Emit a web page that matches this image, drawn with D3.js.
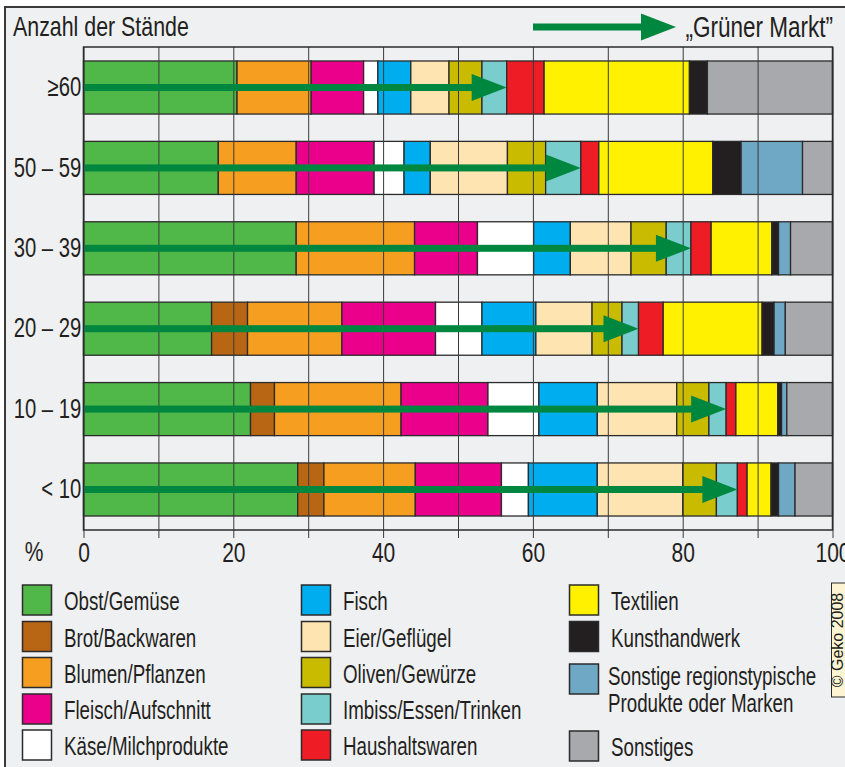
<!DOCTYPE html>
<html>
<head>
<meta charset="utf-8">
<script src="https://cdn.jsdelivr.net/npm/d3@7"></script>
<style>
  body { margin: 0; background: #fff; }
  svg { display: block; }
</style>
</head>
<body>
<svg width="845" height="767"></svg>
<script>
// categories, in stacking order (left to right)
var categories = ["Obst/Gemüse", "Brot/Backwaren", "Blumen/Pflanzen", "Fleisch/Aufschnitt",
  "Käse/Milchprodukte", "Fisch", "Eier/Geflügel", "Oliven/Gewürze", "Imbiss/Essen/Trinken",
  "Haushaltswaren", "Textilien", "Kunsthandwerk",
  "Sonstige regionstypische Produkte oder Marken", "Sonstiges"];
var colors = ["#50b848", "#b86514", "#f69e1f", "#eb008b", "#ffffff", "#00aeef", "#fee4b0",
  "#c9bb00", "#79cdcd", "#ee1c25", "#fff100", "#231f20", "#6ea8c4", "#a7a9ac"];

// groups = Anzahl der Stände, top to bottom
var groups = ["≥60", "50 – 59", "30 – 39", "20 – 29", "10 – 19", "< 10"];

// share in % per category
var s60   = [20.5, 0,   9.9,  7.0, 1.9, 4.4, 5.1,  4.4, 3.3, 5.0, 19.4, 2.4, 0,   16.7];
var s5059 = [18.0, 0,   10.4, 10.4, 4.0, 3.5, 10.3, 5.1, 4.7, 2.4, 15.2, 3.8, 8.2, 4.0];
var s3039 = [28.4, 0,   15.8, 8.4, 7.5, 4.9, 8.1,  4.7, 3.3, 2.7, 8.1,  0.9, 1.6, 5.6];
var s2029 = [17.1, 4.8, 12.6, 12.5, 6.2, 7.2, 7.5, 4.0, 2.2, 3.3, 13.2, 1.6, 1.5, 6.3];
var s1019 = [22.3, 3.2, 16.9, 11.6, 6.8, 7.8, 10.6, 4.3, 2.3, 1.3, 5.6, 0.5, 0.7, 6.1];
var s10   = [28.6, 3.5, 12.2, 11.5, 3.6, 9.2, 11.4, 4.5, 2.8, 1.3, 3.2, 1.0, 2.2, 5.0];
var shares = [s60, s5059, s3039, s2029, s1019, s10];

// "Grüner Markt" = first 9 categories (food)
var greenCount = 9;

var xTicks = [0, 10, 20, 30, 40, 50, 60, 70, 80, 90, 100];

// no narrow font installed -> squeeze a regular one
var font = "'Liberation Sans', Arial, sans-serif";
var squeeze = "scale(0.75,1)";
var ink = "#231f20";
var arrowGreen = "#00873f";

var svg = d3.select("svg");

var plot = { left: 83.5, right: 832.5, top: 47, bottom: 530 };

var x = d3.scaleLinear().domain([0, 100]).range([plot.left, plot.right]);
var y = d3.scaleBand().domain(groups).range([plot.top, plot.bottom])
  .paddingInner(0.34).paddingOuter(0.174);

function label(g, px, py, t, size, anchor) {
  return g.append("text")
    .attr("transform", "translate(" + px + "," + py + ") " + squeeze)
    .attr("text-anchor", anchor || "start")
    .attr("dy", "0.36em")
    .attr("font-family", font)
    .attr("font-size", size)
    .attr("fill", ink)
    .text(t);
}

// background panel
svg.append("rect").attr("width", 845).attr("height", 767).attr("fill", "#fff");
svg.append("rect").attr("x", 5).attr("y", 7).attr("width", 870).attr("height", 790)
  .attr("fill", "#eff0f2").attr("stroke", "#3a3a3a").attr("stroke-width", 2);

// stacked bars
var rows = groups.map(function(gname, i) {
  var acc = 0;
  return shares[i].map(function(v, k) {
    var seg = { group: gname, k: k, x0: acc, x1: acc + v };
    acc += v;
    return seg;
  });
});

svg.append("g").selectAll("g")
  .data(rows)
  .enter().append("g")
  .selectAll("rect")
  .data(function(d) { return d.filter(function(s) { return s.x1 - s.x0 > 0; }); })
  .enter().append("rect")
  .attr("x", function(d) { return x(d.x0); })
  .attr("width", function(d) { return x(d.x1) - x(d.x0); })
  .attr("y", function(d) { return y(d.group); })
  .attr("height", y.bandwidth())
  .attr("fill", function(d) { return colors[d.k]; })
  .attr("stroke", "#2b2b2b")
  .attr("stroke-width", 1.3);

// grid + ticks
var xAxis = d3.axisBottom(x)
  .tickValues(xTicks)
  .tickSize(-(538 - plot.top))
  .tickPadding(4)
  .tickFormat(function(d) { return d % 20 === 0 ? d : ""; });

var gx = svg.append("g").attr("transform", "translate(0,538)").call(xAxis);
gx.select(".domain").remove();
gx.selectAll("line").attr("stroke", "#3a3a3a").attr("stroke-width", 1);
gx.selectAll("text")
  .attr("font-family", font).attr("font-size", 28).attr("fill", ink)
  .attr("transform", squeeze);

// frame
svg.append("rect")
  .attr("x", plot.left).attr("y", plot.top)
  .attr("width", plot.right - plot.left).attr("height", plot.bottom - plot.top)
  .attr("fill", "none").attr("stroke", "#2b2b2b").attr("stroke-width", 1.5);

label(svg, 34, 551, "%", 28, "middle");

// y labels
var yAxis = d3.axisLeft(y).tickSize(0).tickPadding(3);
var gy = svg.append("g").attr("transform", "translate(" + plot.left + ",0)").call(yAxis);
gy.select(".domain").remove();
gy.selectAll("text")
  .attr("font-family", font).attr("font-size", 27).attr("fill", ink)
  .attr("transform", squeeze);

// green market arrows
function drawArrow(g, x0, x1, cy) {
  var headLen = 35, headH = 27, shaft = 7;
  g.append("rect")
    .attr("x", x0).attr("y", cy - shaft / 2)
    .attr("width", x1 - headLen - x0 + 2).attr("height", shaft)
    .attr("fill", arrowGreen);
  g.append("path")
    .attr("d", "M" + (x1 - headLen) + "," + (cy - headH / 2) +
      "L" + x1 + "," + cy + "L" + (x1 - headLen) + "," + (cy + headH / 2) + "Z")
    .attr("fill", arrowGreen);
}

var arrows = svg.append("g");
groups.forEach(function(gname, i) {
  var total = d3.sum(shares[i].slice(0, greenCount));
  drawArrow(arrows, x(0) + 1.5, x(total), y(gname) + y.bandwidth() / 2);
});

// header
label(svg, 13, 26, "Anzahl der Stände", 28.5, "start");
drawArrow(svg, 533, 676, 27);
label(svg, 833, 26, "„Grüner Markt”", 30, "end");

// legend
var legendPos = [
  [22, 585], [22, 621.5], [22, 657.5], [22, 694], [22, 730],
  [301, 585], [301, 621.5], [301, 657.5], [301, 694], [301, 730],
  [569, 585], [569, 621.5], [569, 664], [569, 731]
];

var legend = svg.append("g").attr("class", "legend");
categories.forEach(function(c, i) {
  var p = legendPos[i];
  legend.append("rect")
    .attr("x", p[0] + 0.5).attr("y", p[1])
    .attr("width", 29).attr("height", 30)
    .attr("fill", colors[i]).attr("stroke", "#2b2b2b").attr("stroke-width", 1.5);
  if (i === 12) {
    label(legend, p[0] + 39, p[1] + 12, "Sonstige regionstypische", 25, "start");
    label(legend, p[0] + 39, p[1] + 39, "Produkte oder Marken", 25, "start");
  } else {
    label(legend, p[0] + 42, p[1] + 16, c, 25, "start");
  }
});

// source note
svg.append("rect").attr("x", 831.5).attr("y", 583).attr("width", 20).attr("height", 114)
  .attr("fill", "#fcf4d2").attr("stroke", "#2b2b2b").attr("stroke-width", 1);
svg.append("text")
  .attr("transform", "translate(842.5,640) rotate(-90)")
  .attr("text-anchor", "middle")
  .attr("font-family", "'Liberation Sans', Arial, sans-serif")
  .attr("font-size", 16)
  .attr("fill", ink)
  .text("© Geko 2008");
</script>
</body>
</html>
